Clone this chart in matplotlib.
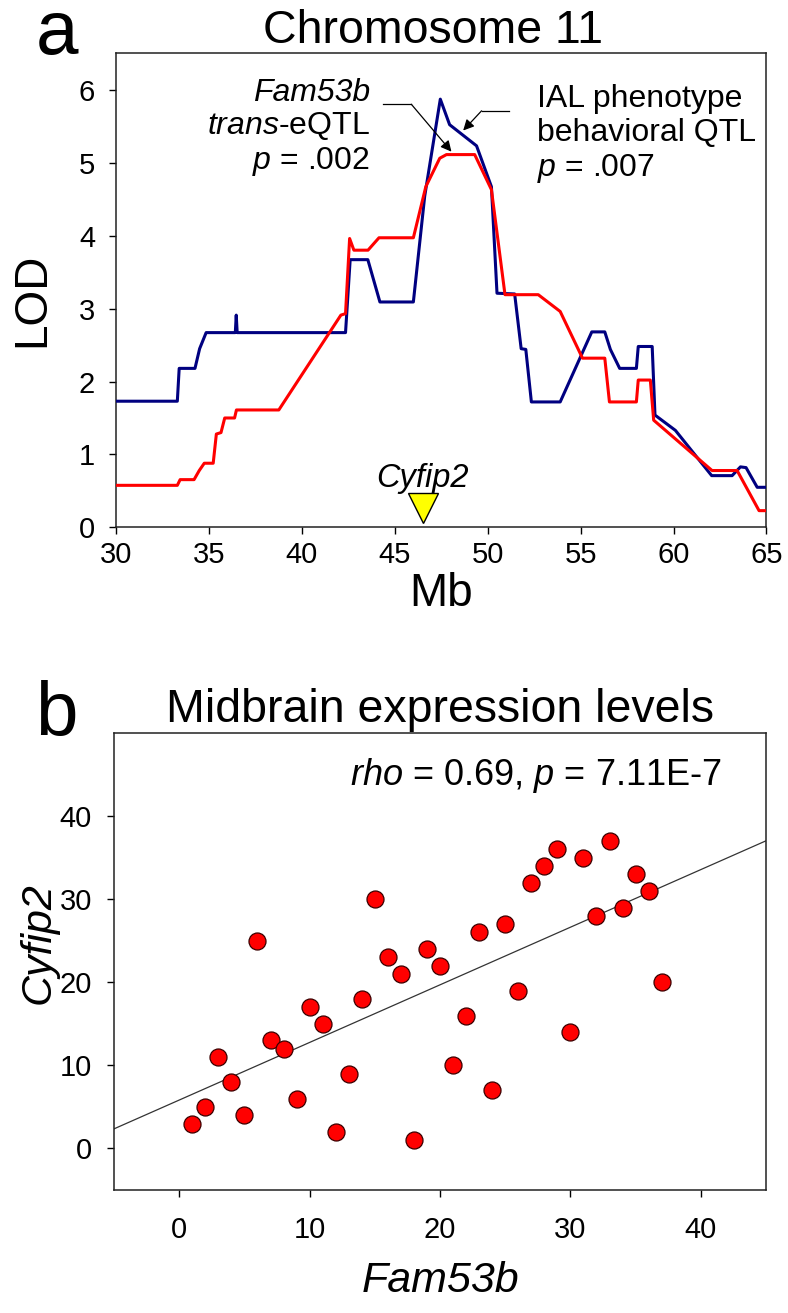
import numpy as np
import matplotlib
matplotlib.use('Agg')
import matplotlib.pyplot as plt

plt.rcParams['font.family'] = ['Liberation Sans', 'DejaVu Sans']
plt.rcParams['mathtext.fontset'] = 'custom'
plt.rcParams['mathtext.rm'] = 'Liberation Sans'
plt.rcParams['mathtext.it'] = 'Liberation Sans:italic'

# --- panel a: LOD scores along chromosome 11 (Mb) ---
eqtl_mb = [30, 33.3, 33.4, 34.25, 34.5, 34.85, 36.42, 36.47, 36.52, 42.35, 42.6,
           43.55, 44.2, 46.0, 46.61, 47.45, 47.95, 49.4, 50.2, 50.5, 51.45, 51.8,
           52.05, 52.35, 53.9, 55.6, 56.3, 56.6, 57.1, 58.0, 58.1, 58.85, 59.0,
           60.1, 62.05, 63.15, 63.6, 63.9, 64.5, 65]
eqtl_lod = [1.73, 1.73, 2.18, 2.18, 2.45, 2.67, 2.67, 2.91, 2.67, 2.67, 3.67,
            3.67, 3.09, 3.09, 4.54, 5.87, 5.52, 5.23, 4.67, 3.21, 3.20, 2.45,
            2.44, 1.72, 1.72, 2.68, 2.68, 2.44, 2.18, 2.18, 2.48, 2.48, 1.54,
            1.33, 0.71, 0.71, 0.83, 0.82, 0.55, 0.55]

ial_mb = [30, 33.3, 33.45, 34.2, 34.48, 34.75, 35.23, 35.4, 35.65, 35.85, 36.38,
          36.48, 38.76, 42.1, 42.35, 42.57, 42.8, 43.56, 44.15, 46.0, 46.67,
          47.42, 47.78, 49.3, 50.2, 50.93, 52.72, 53.9, 55.1, 56.3, 56.55, 58.0,
          58.1, 58.75, 58.93, 62.07, 63.42, 64.6, 65]
ial_lod = [0.577, 0.577, 0.655, 0.655, 0.78, 0.88, 0.88, 1.28, 1.30, 1.50, 1.50,
           1.61, 1.61, 2.91, 2.93, 3.96, 3.80, 3.80, 3.97, 3.97, 4.67,
           5.06, 5.11, 5.11, 4.63, 3.19, 3.19, 2.96, 2.32, 2.32, 1.72, 1.72,
           2.02, 2.02, 1.47, 0.78, 0.78, 0.23, 0.23]

cyfip2_mb = 46.5

# --- panel b: midbrain expression (ranks) ---
fam53b = list(range(1, 38))
cyfip2 = [3, 5, 11, 8, 4, 25, 13, 12, 6, 17, 15, 2, 9, 18, 30, 23, 21, 1, 24, 22,
          10, 16, 26, 7, 27, 19, 32, 34, 36, 14, 35, 28, 37, 29, 33, 31, 20]

fig = plt.figure(figsize=(7.88, 13.13), dpi=100)

# ---------------- a ----------------
ax1 = fig.add_axes([0.1472, 0.5983, 0.8255, 0.3612])
ax1.plot(eqtl_mb, eqtl_lod, color='#000080', lw=2.2, zorder=3)
ax1.plot(ial_mb, ial_lod, color='#ff0000', lw=2.2, zorder=4)
ax1.plot([cyfip2_mb], [0.26], marker='v', ms=21, mfc='#ffff00', mec='black',
         mew=1.0, clip_on=False, zorder=5)
ax1.text(cyfip2_mb, 0.56, 'Cyfip2', style='italic', fontsize=23.5, ha='center',
         va='baseline')

ax1.set_xlim(30, 65)
ax1.set_ylim(0, 6.5)
ax1.set_xticks(range(30, 66, 5))
ax1.set_yticks(range(0, 7))
ax1.set_title('Chromosome 11', fontsize=33.5, pad=7, x=0.488)
ax1.set_xlabel('Mb', fontsize=33)
ax1.set_ylabel('LOD', fontsize=33)
ax1.xaxis.set_label_coords(0.5, -0.095)
ax1.yaxis.set_label_coords(-0.095, 0.48)

# eQTL annotation
ax1.text(43.65, 5.85, 'Fam53b', style='italic', fontsize=23, ha='right', va='baseline')
ax1.text(43.65, 5.39, r'$\mathit{trans}$-eQTL', fontsize=23, ha='right', va='baseline')
ax1.text(43.65, 4.91, r'$\mathit{p}$ = .002', fontsize=23, ha='right', va='baseline')
ax1.plot([44.36, 45.89], [5.80, 5.80], color='black', lw=0.9, zorder=6)
ax1.annotate('', xy=(48.05, 5.15), xytext=(45.89, 5.80),
             arrowprops=dict(arrowstyle='-|>', color='black', lw=0.9,
                             mutation_scale=16, shrinkA=0, shrinkB=0), zorder=6)

# behavioural QTL annotation
ax1.text(52.67, 5.76, 'IAL phenotype', fontsize=23, ha='left', va='baseline')
ax1.text(52.67, 5.30, 'behavioral QTL', fontsize=23, ha='left', va='baseline')
ax1.text(52.67, 4.82, r'$\mathit{p}$ = .007', fontsize=23, ha='left', va='baseline')
ax1.plot([51.16, 49.67], [5.71, 5.71], color='black', lw=0.9, zorder=6)
ax1.annotate('', xy=(48.68, 5.44), xytext=(49.67, 5.71),
             arrowprops=dict(arrowstyle='-|>', color='black', lw=0.9,
                             mutation_scale=16, shrinkA=0, shrinkB=0), zorder=6)

# ---------------- b ----------------
ax2 = fig.add_axes([0.1447, 0.0937, 0.8274, 0.348])
slope, icpt = np.polyfit(fam53b, cyfip2, 1)
xx = np.array([-5, 45])
ax2.plot(xx, icpt + slope * xx, color='#333333', lw=0.9, zorder=2)
ax2.scatter(fam53b, cyfip2, s=150, c='#ff0000', edgecolors='#3a0000',
            linewidths=0.9, zorder=3)
ax2.set_xlim(-5, 45)
ax2.set_ylim(-5, 50)
ax2.set_xticks(range(0, 41, 10))
ax2.set_yticks(range(0, 41, 10))
ax2.set_title('Midbrain expression levels', fontsize=33.5, pad=8)
ax2.set_xlabel('Fam53b', style='italic', fontsize=31)
ax2.set_ylabel('Cyfip2', style='italic', fontsize=31)
ax2.xaxis.set_label_coords(0.5, -0.155)
ax2.yaxis.set_label_coords(-0.085, 0.54)
ax2.text(41.6, 43.7, r'$\mathit{rho}$ = 0.69, $\mathit{p}$ = 7.11E-7', fontsize=26,
         ha='right', va='baseline')

for ax in (ax1, ax2):
    for s in ax.spines.values():
        s.set_linewidth(1.1)
        s.set_color('#222222')
    ax.tick_params(direction='out', length=5, width=1.0, labelsize=21,
                   top=False, right=False)
ax1.tick_params(axis='x', pad=5)
ax1.tick_params(axis='y', pad=10)
ax2.tick_params(axis='x', pad=14)
ax2.tick_params(axis='y', pad=11)

fig.text(0.045, 1 - 54 / 1313, 'a', fontsize=55, va='baseline')
fig.text(0.045, 1 - 735 / 1313, 'b', fontsize=55, va='baseline')

fig.savefig('out.png', dpi=100)
